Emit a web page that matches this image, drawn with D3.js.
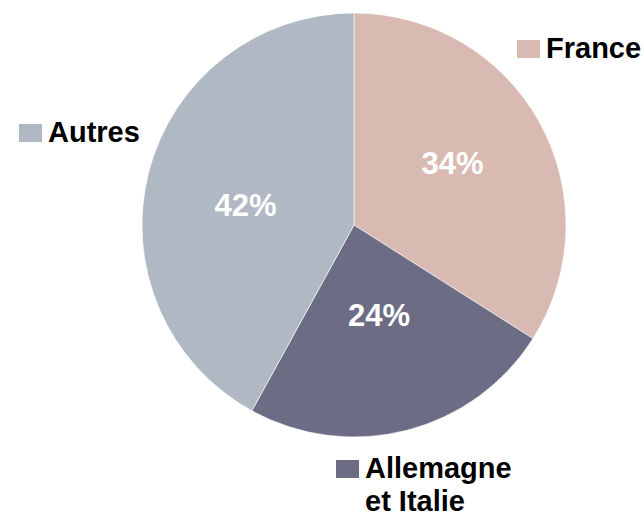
<!DOCTYPE html>
<html><head><meta charset="utf-8">
<script src="https://cdn.jsdelivr.net/npm/d3@7"></script>
<style>body{margin:0;background:#fff;}svg{display:block;}</style>
</head><body>
<svg id="chart" width="644" height="517"></svg>
<script>
const categories = ["France", "Allemagne et Italie", "Autres"];
const values = [34, 24, 42];
const valueLabels = ["34%", "24%", "42%"];
const colors = ["#d9bab2", "#6c6d85", "#b0b9c3"];

const svg = d3.select("#chart");
const cx = 354, cy = 225, r = 212;
const g = svg.append("g").attr("transform", `translate(${cx},${cy})`);

const pie = d3.pie().sort(null).value(d => d)(values);
const arc = d3.arc().innerRadius(0).outerRadius(r);

g.selectAll("path").data(pie).join("path")
  .attr("d", arc)
  .attr("fill", (d, i) => colors[i])
  .attr("stroke", "#ffffff").attr("stroke-width", 0.6);

const labelFactor = [0.55, 0.44, 0.52];
g.selectAll("text.pct").data(pie).join("text")
  .attr("class", "pct")
  .attr("transform", (d, i) => {
    const a = (d.startAngle + d.endAngle) / 2 + [-0.06, -0.02, -0.07][i];
    const rr = r * labelFactor[i];
    return `translate(${Math.sin(a) * rr},${-Math.cos(a) * rr})`;
  })
  .attr("text-anchor", "middle")
  .attr("dy", "0.36em")
  .attr("font-family", "Liberation Sans, Arial, sans-serif")
  .attr("font-weight", "bold")
  .attr("font-size", 31)
  .attr("fill", "#ffffff")
  .text((d, i) => valueLabels[i]);

// Legend entries
const legendPos = [
  {x: 517, y: 40, lines: ["France"]},
  {x: 336, y: 460, lines: ["Allemagne", "et Italie"]},
  {x: 19, y: 124, lines: ["Autres"]}
];
legendPos.forEach((p, i) => {
  const lg = svg.append("g");
  lg.append("rect").attr("x", p.x).attr("y", p.y).attr("width", 23).attr("height", 18).attr("fill", colors[i]);
  const t = lg.append("text")
    .attr("font-family", "Liberation Sans, Arial, sans-serif")
    .attr("font-weight", "bold")
    .attr("font-size", 29)
    .attr("fill", "#000");
  p.lines.forEach((ln, j) => {
    t.append("tspan").attr("x", p.x + 29).attr("y", p.y + 18 + j * 33).text(ln);
  });
});
</script>
</body></html>
